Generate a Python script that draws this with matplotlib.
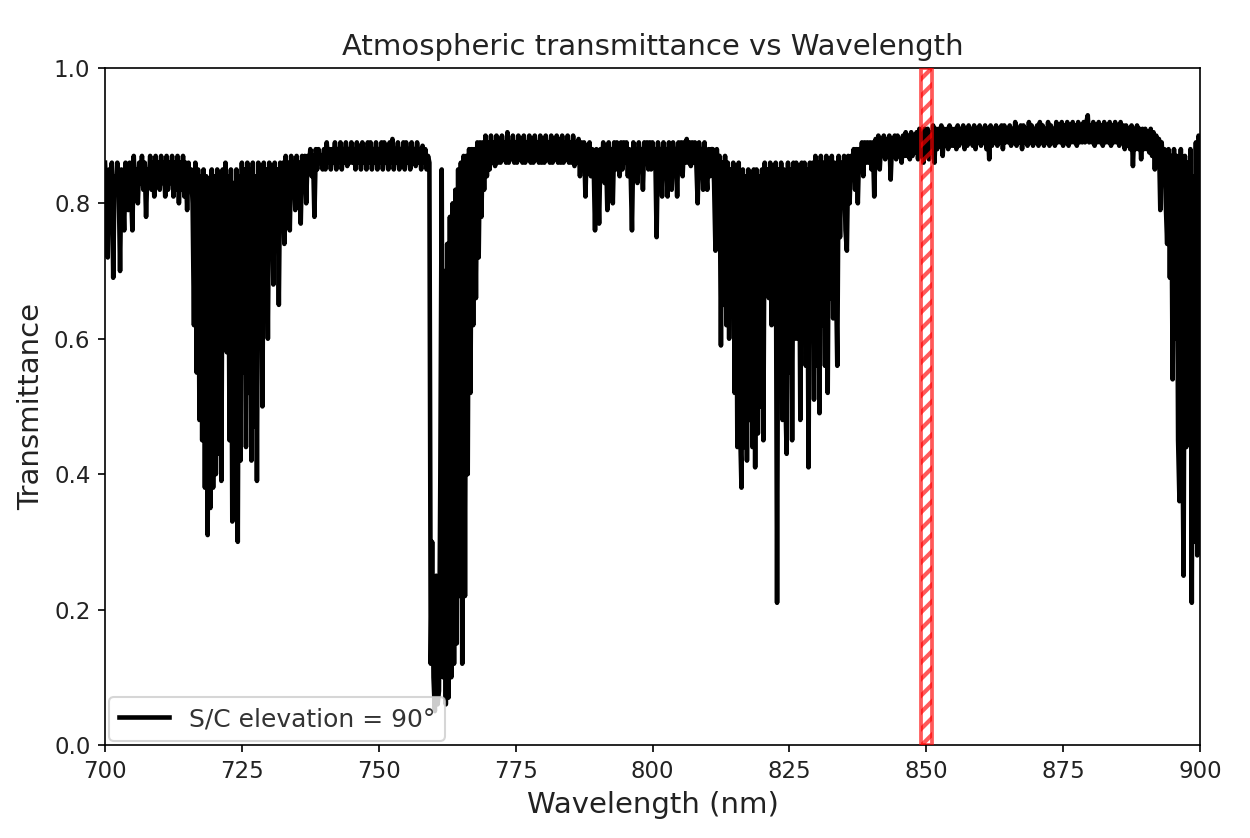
import matplotlib
matplotlib.use("Agg")
import matplotlib.pyplot as plt
import numpy as np

# Spectrum sampled every 0.25 nm from 700 to 900 nm, transmittance in percent
wl_start = 700.0
wl_step = 0.25
transmittance_pct = [
    86, 82, 72, 85, 83, 86, 69, 84, 82, 86, 83, 70, 85, 82, 76, 86, 81, 79, 86, 82,          # 700
    76, 87, 82, 85, 80, 86, 83, 87, 82, 86, 78, 85, 83, 87, 82, 86, 81, 87, 83, 86,          # 705
    82, 87, 83, 86, 81, 87, 82, 86, 83, 87, 81, 86, 82, 87, 80, 86, 82, 87, 81, 86,          # 710
    79, 86, 82, 85, 80, 62, 86, 55, 85, 48, 84, 45, 85, 38, 84, 31, 83, 35, 85, 38,          # 715
    84, 40, 85, 43, 84, 39, 85, 62, 86, 58, 84, 45, 85, 33, 83, 36, 85, 30, 84, 42,          # 720
    86, 55, 85, 44, 86, 52, 85, 42, 86, 47, 84, 39, 86, 60, 85, 50, 86, 66, 85, 60,          # 725
    86, 72, 85, 68, 86, 75, 85, 65, 86, 78, 86, 74, 87, 80, 86, 76, 87, 82, 86, 79,          # 730
    87, 83, 86, 77, 87, 84, 87, 80, 87, 85, 88, 84, 87, 78, 88, 85, 88, 86, 87, 85,          # 735
    88, 85, 89, 86, 88, 85, 88, 86, 89, 85, 88, 86, 89, 85, 88, 86, 89, 85.5, 88, 86,        # 740
    89, 86, 88, 85, 89, 86, 88.5, 85, 89, 86, 88, 85, 89, 86, 89, 85, 88, 86, 89, 85,        # 745
    88, 86, 89, 85, 89, 86, 88, 85, 89, 86, 89.5, 85, 88, 86, 89, 85, 88, 86, 89, 85,        # 750
    89, 86, 88, 85, 89, 86, 88, 85.5, 89, 86, 88, 85, 88.5, 86, 88, 85, 87, 86, 12, 30,      # 755
    10, 5, 25, 6, 8, 40, 85, 10, 70, 6, 74, 7, 78, 10, 80, 12, 82, 15, 85, 22,               # 760
    86, 12, 87, 22, 87, 40, 88, 52, 88, 62, 88, 66, 89, 72, 89, 78, 89, 82, 90, 84,          # 765
    89, 85, 90, 86, 89, 85.5, 90, 86, 89.5, 86, 90, 86.5, 89, 86, 90.5, 86, 89, 86.5, 90, 86,  # 770
    89, 86, 90, 86.5, 89.5, 86, 90, 86, 89, 86.5, 90, 86, 89.5, 86, 90, 86.5, 89, 86, 90, 86,  # 775
    89.5, 86, 90, 86.5, 89, 86, 90, 86, 89, 86.5, 90, 86, 89.5, 86, 90, 86, 89, 86.5, 90, 86,  # 780
    89, 86, 90, 85.5, 89, 86, 89.5, 84, 89, 86, 89, 81, 88.5, 85, 89, 84, 88, 86, 76, 88,    # 785
    84, 77, 88, 85, 89, 83, 88, 79, 89, 84, 88, 80, 89, 85, 89, 86, 84, 89, 85, 89,          # 790
    86, 89, 84, 88, 85, 76, 89, 85, 88, 83, 89, 85, 88, 82, 89, 86, 89, 85, 89, 85,          # 795
    89, 86, 88, 75, 89, 85, 88, 81, 89, 86, 88, 81, 89, 85, 82, 89, 86, 88, 81, 89,          # 800
    85, 89, 84, 89, 86, 89.5, 86, 89, 85.5, 89, 86, 89, 86, 80, 89, 85, 88, 82, 89, 85,      # 805
    82, 88, 84, 88, 88, 83, 73, 88, 82, 87, 59, 86, 65, 87, 62, 86, 60, 85, 70, 86,          # 810
    52, 85, 44, 86, 47, 38, 85, 44, 84, 42, 85, 48, 84, 44, 85, 41, 85, 46, 84, 50,          # 815
    85, 45, 86, 68, 85, 66, 86, 62, 85, 70, 86, 21, 85, 54, 86, 48, 85, 52, 43, 86,          # 820
    55, 85, 45, 86, 60, 86, 60, 85, 48, 86, 62, 86, 56, 85, 41, 86, 60, 86, 51, 87,          # 825
    56, 86, 49, 87, 62, 86, 56, 87, 52, 86, 66, 87, 63, 86, 70, 56, 87, 75, 86, 80,          # 830
    87, 76, 73, 87, 80, 87, 84, 88, 82, 88, 80, 88, 85, 89, 84, 89, 86, 89, 86, 89,          # 835
    85, 89, 81, 89.5, 86, 90, 85, 89, 87, 90, 86.5, 89.5, 87, 90, 83.5, 89, 87, 90, 86.5, 90,  # 840
    87, 89.5, 86, 90, 87, 90.5, 87, 90, 86.5, 90.5, 87, 90, 87.5, 90.5, 86.5, 91, 87, 90.5, 86, 91,  # 845
    87, 91, 86.5, 90.5, 87.5, 91.5, 86, 91, 88, 91, 88.5, 91.5, 87, 91, 88.5, 91, 88, 91.5, 88.5, 91,  # 850
    88.5, 91, 88, 91.5, 88.5, 91, 89, 91.5, 88, 91, 88.5, 91.5, 89, 91, 88.5, 91.5, 88, 91, 89, 91.5,  # 855
    88.5, 91, 89, 91.5, 88, 91, 86.5, 91.5, 88.5, 91, 89, 91.5, 88.5, 91, 89, 91.5, 88, 91.5, 89, 91,  # 860
    89, 91.5, 88.5, 91, 89, 92, 88.5, 91, 89, 91.5, 88, 91.5, 89, 91, 88.5, 92, 89, 91.5, 88.5, 91,    # 865
    89, 91.5, 88.5, 92, 89, 91.5, 88.5, 91, 89, 92, 88.5, 91.5, 89, 91, 88.5, 92, 89, 91.5, 89, 92,    # 870
    88.5, 91.5, 89, 92, 88.5, 91.5, 89, 92, 89, 91.5, 88.5, 92, 89, 91.5, 89, 92, 89, 92, 93, 89,      # 875
    91.5, 89, 92, 88.5, 91.5, 89, 92, 89, 91.5, 88.5, 92, 89, 91.5, 89, 92, 88.5, 91.5, 89, 92, 89,    # 880
    91.5, 88.5, 92, 89, 91.5, 88, 91.5, 88.5, 91, 88, 91.5, 85.5, 91, 88, 91.5, 88, 91, 86.5, 91, 88,  # 885
    91, 88, 90.5, 87.5, 91, 87, 90.5, 85, 90, 87, 89.5, 79, 89, 85, 88, 80, 74, 88, 69, 87,            # 890
    54, 88, 60, 87, 45, 36, 88, 50, 25, 87, 44, 86, 50, 88, 21, 84, 30, 89, 28, 90,                    # 895
    88,                                                                                                # 900
]

band_lo, band_hi = 849, 851
curve_label = "S/C elevation = 90°"

transmittance = np.array(transmittance_pct) / 100.0
assert len(transmittance) == 801, len(transmittance)
wavelength = wl_start + wl_step * np.arange(len(transmittance))

plt.rcParams["hatch.linewidth"] = 2.0

fig, ax = plt.subplots(figsize=(1250 / 150, 838 / 150), dpi=150)
fig.subplots_adjust(left=0.084, right=0.96, top=0.919, bottom=0.111)

ax.plot(wavelength, transmittance, color="black", lw=2.2, label=curve_label)
ax.axvspan(band_lo, band_hi, fill=False, hatch="///", edgecolor="red",
           alpha=0.65, lw=1.8, zorder=3)

ax.set_xlim(700, 900)
ax.set_ylim(0, 1)
ax.set_xlabel("Wavelength (nm)", fontsize=14, color="#222222")
ax.set_ylabel("Transmittance", fontsize=14, color="#222222")
ax.set_title("Atmospheric transmittance vs Wavelength", fontsize=14, color="#222222")
ax.tick_params(labelsize=11, labelcolor="#222222")
leg = ax.legend(loc="lower left", fontsize=12, borderaxespad=0.15)
for t in leg.get_texts():
    t.set_color("#333333")

fig.savefig("out.png", dpi=150)
